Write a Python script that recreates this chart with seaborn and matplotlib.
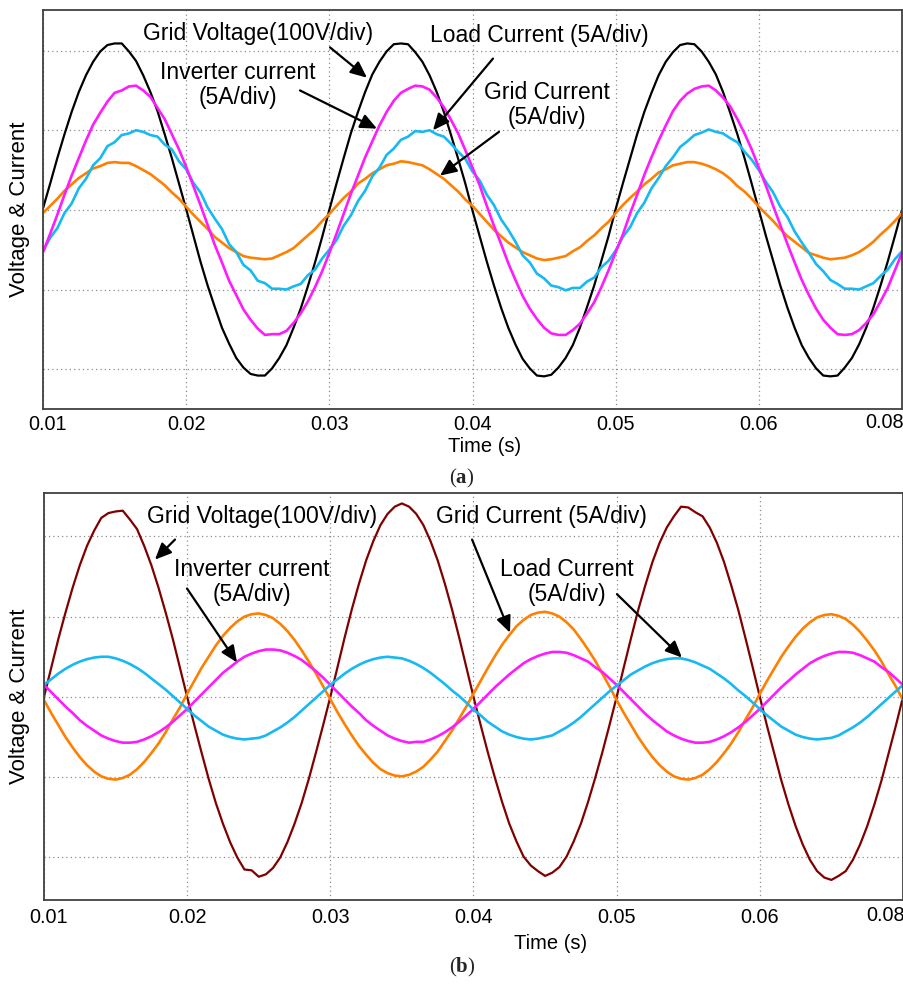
import matplotlib
matplotlib.use("Agg")
import matplotlib.pyplot as plt
import matplotlib.transforms as mtransforms
import pandas as pd
import seaborn as sns

# sample times (s), one reading every 0.5 ms
time_s = [0.0100, 0.0105, 0.0110, 0.0115, 0.0120, 0.0125, 0.0130, 0.0135, 0.0140, 0.0145,
          0.0150, 0.0155, 0.0160, 0.0165, 0.0170, 0.0175, 0.0180, 0.0185, 0.0190, 0.0195,
          0.0200, 0.0205, 0.0210, 0.0215, 0.0220, 0.0225, 0.0230, 0.0235, 0.0240, 0.0245,
          0.0250, 0.0255, 0.0260, 0.0265, 0.0270, 0.0275, 0.0280, 0.0285, 0.0290, 0.0295,
          0.0300, 0.0305, 0.0310, 0.0315, 0.0320, 0.0325, 0.0330, 0.0335, 0.0340, 0.0345,
          0.0350, 0.0355, 0.0360, 0.0365, 0.0370, 0.0375, 0.0380, 0.0385, 0.0390, 0.0395,
          0.0400, 0.0405, 0.0410, 0.0415, 0.0420, 0.0425, 0.0430, 0.0435, 0.0440, 0.0445,
          0.0450, 0.0455, 0.0460, 0.0465, 0.0470, 0.0475, 0.0480, 0.0485, 0.0490, 0.0495,
          0.0500, 0.0505, 0.0510, 0.0515, 0.0520, 0.0525, 0.0530, 0.0535, 0.0540, 0.0545,
          0.0550, 0.0555, 0.0560, 0.0565, 0.0570, 0.0575, 0.0580, 0.0585, 0.0590, 0.0595,
          0.0600, 0.0605, 0.0610, 0.0615, 0.0620, 0.0625, 0.0630, 0.0635, 0.0640, 0.0645,
          0.0650, 0.0655, 0.0660, 0.0665, 0.0670, 0.0675, 0.0680, 0.0685, 0.0690, 0.0695,
          0.0700]

# ---- panel (a), values in screen divisions ----
grid_v_a = [0.02, 0.33, 0.65, 0.95, 1.23, 1.48, 1.69, 1.86, 1.99, 2.07,
            2.09, 2.09, 1.99, 1.87, 1.69, 1.48, 1.24, 0.95, 0.65, 0.33,
            0.01, -0.32, -0.65, -0.95, -1.22, -1.48, -1.68, -1.86, -1.98, -2.06,
            -2.08, -2.08, -1.99, -1.86, -1.70, -1.48, -1.24, -0.96, -0.66, -0.34,
            0.00, 0.33, 0.65, 0.96, 1.23, 1.48, 1.70, 1.86, 1.99, 2.08,
            2.09, 2.08, 1.98, 1.86, 1.69, 1.48, 1.23, 0.94, 0.64, 0.33,
            -0.01, -0.33, -0.65, -0.95, -1.23, -1.48, -1.69, -1.87, -1.99, -2.08,
            -2.09, -2.07, -1.98, -1.86, -1.70, -1.48, -1.22, -0.95, -0.64, -0.33,
            0.01, 0.33, 0.64, 0.95, 1.23, 1.47, 1.69, 1.86, 1.98, 2.07,
            2.09, 2.08, 1.99, 1.86, 1.70, 1.48, 1.22, 0.95, 0.65, 0.33,
            0.00, -0.33, -0.64, -0.95, -1.23, -1.48, -1.70, -1.86, -1.99, -2.08,
            -2.09, -2.08, -1.98, -1.86, -1.69, -1.48, -1.23, -0.95, -0.65, -0.33,
            0.00]
inv_i_a = [-0.53, -0.30, -0.06, 0.19, 0.43, 0.65, 0.87, 1.07, 1.22, 1.36,
           1.47, 1.50, 1.55, 1.56, 1.50, 1.42, 1.28, 1.14, 0.95, 0.76,
           0.54, 0.30, 0.06, -0.19, -0.44, -0.66, -0.89, -1.07, -1.25, -1.38,
           -1.49, -1.57, -1.56, -1.56, -1.52, -1.42, -1.30, -1.15, -0.97, -0.77,
           -0.54, -0.30, -0.05, 0.20, 0.43, 0.66, 0.86, 1.06, 1.23, 1.37,
           1.47, 1.52, 1.56, 1.55, 1.51, 1.41, 1.29, 1.13, 0.96, 0.75,
           0.53, 0.31, 0.05, -0.20, -0.43, -0.67, -0.88, -1.08, -1.24, -1.37,
           -1.48, -1.55, -1.57, -1.57, -1.51, -1.43, -1.30, -1.16, -0.97, -0.76,
           -0.53, -0.31, -0.05, 0.19, 0.44, 0.66, 0.87, 1.06, 1.24, 1.37,
           1.46, 1.52, 1.55, 1.56, 1.50, 1.41, 1.30, 1.14, 0.96, 0.76,
           0.53, 0.30, 0.05, -0.19, -0.43, -0.66, -0.88, -1.07, -1.24, -1.38,
           -1.48, -1.56, -1.57, -1.56, -1.51, -1.42, -1.31, -1.15, -0.98, -0.76,
           -0.54]
load_i_a = [-0.52, -0.35, -0.23, -0.04, 0.08, 0.27, 0.39, 0.56, 0.65, 0.80,
            0.85, 0.94, 0.96, 1.00, 0.98, 0.94, 0.92, 0.82, 0.76, 0.61,
            0.51, 0.34, 0.22, 0.03, -0.11, -0.24, -0.43, -0.53, -0.69, -0.76,
            -0.89, -0.92, -0.99, -0.99, -1.00, -0.96, -0.93, -0.82, -0.75, -0.61,
            -0.50, -0.38, -0.20, -0.07, 0.11, 0.24, 0.42, 0.53, 0.69, 0.77,
            0.88, 0.92, 0.99, 0.98, 1.00, 0.95, 0.92, 0.83, 0.73, 0.64,
            0.48, 0.37, 0.19, 0.06, -0.12, -0.25, -0.40, -0.57, -0.66, -0.80,
            -0.86, -0.95, -0.97, -1.01, -0.98, -0.98, -0.90, -0.85, -0.72, -0.64,
            -0.51, -0.34, -0.22, -0.04, 0.09, 0.27, 0.40, 0.55, 0.66, 0.79,
            0.86, 0.94, 0.97, 1.01, 0.98, 0.96, 0.90, 0.85, 0.73, 0.63,
            0.50, 0.35, 0.22, 0.04, -0.09, -0.27, -0.41, -0.54, -0.68, -0.77,
            -0.88, -0.93, -0.99, -0.99, -1.00, -0.96, -0.92, -0.83, -0.75, -0.62,
            -0.52]
grid_i_a = [-0.04, 0.05, 0.14, 0.24, 0.32, 0.40, 0.46, 0.52, 0.55, 0.59,
            0.60, 0.59, 0.59, 0.55, 0.50, 0.45, 0.38, 0.31, 0.22, 0.14,
            0.04, -0.06, -0.15, -0.24, -0.34, -0.41, -0.48, -0.53, -0.58, -0.60,
            -0.61, -0.62, -0.61, -0.57, -0.53, -0.48, -0.40, -0.32, -0.24, -0.14,
            -0.05, 0.05, 0.15, 0.23, 0.33, 0.39, 0.46, 0.51, 0.56, 0.58,
            0.61, 0.60, 0.58, 0.56, 0.51, 0.45, 0.39, 0.31, 0.23, 0.13,
            0.05, -0.05, -0.15, -0.25, -0.33, -0.41, -0.47, -0.53, -0.57, -0.61,
            -0.63, -0.62, -0.60, -0.58, -0.52, -0.47, -0.39, -0.32, -0.23, -0.15,
            -0.04, 0.06, 0.15, 0.23, 0.32, 0.39, 0.47, 0.51, 0.56, 0.58,
            0.60, 0.60, 0.58, 0.55, 0.51, 0.46, 0.39, 0.30, 0.23, 0.14,
            0.04, -0.05, -0.14, -0.24, -0.33, -0.40, -0.47, -0.54, -0.57, -0.60,
            -0.62, -0.61, -0.60, -0.57, -0.53, -0.47, -0.40, -0.31, -0.23, -0.14,
            -0.04]

# ---- panel (b) ----
grid_v_b = [0.00, 0.36, 0.72, 1.05, 1.36, 1.64, 1.88, 2.07, 2.23, 2.29,
            2.31, 2.32, 2.21, 2.09, 1.88, 1.64, 1.36, 1.05, 0.72, 0.36,
            0.00, -0.35, -0.69, -1.02, -1.32, -1.58, -1.81, -2.00, -2.15, -2.16,
            -2.24, -2.21, -2.13, -2.00, -1.81, -1.58, -1.32, -1.02, -0.69, -0.35,
            0.00, 0.37, 0.74, 1.09, 1.41, 1.70, 1.94, 2.14, 2.28, 2.37,
            2.41, 2.37, 2.28, 2.14, 1.94, 1.70, 1.41, 1.09, 0.74, 0.37,
            0.00, -0.35, -0.69, -1.01, -1.31, -1.58, -1.80, -1.99, -2.10, -2.17,
            -2.23, -2.19, -2.12, -1.99, -1.80, -1.58, -1.31, -1.01, -0.69, -0.35,
            0.00, 0.37, 0.73, 1.08, 1.39, 1.68, 1.92, 2.11, 2.25, 2.37,
            2.36, 2.30, 2.25, 2.11, 1.92, 1.68, 1.39, 1.08, 0.73, 0.37,
            0.00, -0.36, -0.70, -1.04, -1.34, -1.61, -1.84, -2.03, -2.17, -2.25,
            -2.28, -2.23, -2.17, -2.03, -1.84, -1.61, -1.34, -1.04, -0.70, -0.36,
            0.00]
grid_i_b = [-0.04, -0.20, -0.35, -0.50, -0.63, -0.75, -0.85, -0.93, -0.99, -1.02,
            -1.03, -1.01, -0.97, -0.90, -0.81, -0.70, -0.58, -0.44, -0.28, -0.13,
            0.04, 0.20, 0.36, 0.50, 0.64, 0.76, 0.86, 0.94, 1.00, 1.03,
            1.04, 1.02, 0.98, 0.91, 0.82, 0.71, 0.58, 0.44, 0.29, 0.13,
            -0.03, -0.19, -0.34, -0.48, -0.61, -0.72, -0.82, -0.90, -0.95, -0.98,
            -0.99, -0.97, -0.93, -0.87, -0.78, -0.68, -0.55, -0.42, -0.27, -0.12,
            0.04, 0.20, 0.36, 0.51, 0.65, 0.77, 0.88, 0.96, 1.02, 1.05,
            1.06, 1.04, 1.00, 0.93, 0.84, 0.72, 0.59, 0.45, 0.29, 0.13,
            -0.04, -0.20, -0.35, -0.50, -0.63, -0.75, -0.85, -0.93, -0.99, -1.02,
            -1.03, -1.01, -0.97, -0.90, -0.81, -0.70, -0.58, -0.44, -0.28, -0.13,
            0.04, 0.20, 0.35, 0.50, 0.63, 0.75, 0.85, 0.93, 0.99, 1.02,
            1.03, 1.01, 0.97, 0.90, 0.81, 0.70, 0.58, 0.44, 0.28, 0.13,
            -0.04]
inv_i_b = [0.15, 0.06, -0.03, -0.12, -0.20, -0.29, -0.36, -0.42, -0.48, -0.52,
           -0.55, -0.57, -0.57, -0.56, -0.53, -0.49, -0.44, -0.38, -0.31, -0.23,
           -0.15, -0.06, 0.03, 0.12, 0.21, 0.30, 0.37, 0.44, 0.50, 0.54,
           0.57, 0.59, 0.59, 0.58, 0.55, 0.51, 0.46, 0.39, 0.32, 0.24,
           0.15, 0.06, -0.03, -0.12, -0.20, -0.29, -0.36, -0.42, -0.48, -0.52,
           -0.55, -0.57, -0.56, -0.56, -0.53, -0.49, -0.44, -0.38, -0.31, -0.23,
           -0.15, -0.06, 0.03, 0.12, 0.20, 0.28, 0.35, 0.42, 0.47, 0.51,
           0.54, 0.56, 0.56, 0.55, 0.52, 0.48, 0.44, 0.37, 0.31, 0.23,
           0.15, 0.06, -0.03, -0.12, -0.21, -0.29, -0.36, -0.43, -0.48, -0.52,
           -0.55, -0.57, -0.57, -0.56, -0.53, -0.49, -0.44, -0.38, -0.31, -0.23,
           -0.15, -0.06, 0.03, 0.12, 0.20, 0.28, 0.35, 0.42, 0.47, 0.51,
           0.54, 0.56, 0.56, 0.55, 0.52, 0.48, 0.44, 0.37, 0.31, 0.23,
           0.15]
load_i_b = [0.15, 0.22, 0.29, 0.35, 0.40, 0.44, 0.47, 0.49, 0.50, 0.50,
            0.48, 0.45, 0.41, 0.36, 0.30, 0.23, 0.16, 0.09, 0.01, -0.07,
            -0.15, -0.23, -0.30, -0.37, -0.42, -0.47, -0.50, -0.52, -0.53, -0.52,
            -0.51, -0.48, -0.43, -0.38, -0.32, -0.25, -0.17, -0.09, -0.01, 0.07,
            0.15, 0.22, 0.29, 0.35, 0.40, 0.44, 0.47, 0.49, 0.50, 0.49,
            0.48, 0.45, 0.41, 0.36, 0.30, 0.23, 0.16, 0.08, 0.01, -0.07,
            -0.16, -0.23, -0.31, -0.37, -0.43, -0.47, -0.50, -0.52, -0.53, -0.52,
            -0.50, -0.48, -0.43, -0.38, -0.32, -0.25, -0.17, -0.09, -0.01, 0.07,
            0.14, 0.21, 0.28, 0.33, 0.38, 0.42, 0.45, 0.47, 0.48, 0.48,
            0.46, 0.43, 0.39, 0.35, 0.29, 0.23, 0.16, 0.08, 0.01, -0.07,
            -0.15, -0.23, -0.30, -0.37, -0.42, -0.47, -0.50, -0.52, -0.53, -0.52,
            -0.51, -0.48, -0.43, -0.38, -0.32, -0.25, -0.17, -0.09, -0.01, 0.07,
            0.15]

tick_pos = [0.01, 0.02, 0.03, 0.04, 0.05, 0.06, 0.07]
tick_labels = ["0.01", "0.02", "0.03", "0.04", "0.05", "0.06", "0.08"]

colors_a = {"Grid Current": "#ff8000", "Load Current": "#16b9f2",
            "Inverter current": "#ff1aff"}
colors_b = {"Grid Current": "#ff8000", "Inverter current": "#ff1aff",
            "Load Current": "#16b9f2"}
volt_color_a = "#000000"
volt_color_b = "#800000"


def long_frame(series):
    parts = [pd.DataFrame({"time": time_s, "value": vals, "signal": name})
             for name, vals in series.items()]
    return pd.concat(parts, ignore_index=True)


volt_a = pd.DataFrame({"time": time_s, "value": grid_v_a})
volt_b = pd.DataFrame({"time": time_s, "value": grid_v_b})
cur_a = long_frame({"Grid Current": grid_i_a, "Load Current": load_i_a,
                    "Inverter current": inv_i_a})
cur_b = long_frame({"Grid Current": grid_i_b, "Inverter current": inv_i_b,
                    "Load Current": load_i_b})

sns.set_style("white")
plt.rcParams["font.family"] = ["Liberation Sans", "DejaVu Sans"]
plt.rcParams["mathtext.fontset"] = "custom"
plt.rcParams["mathtext.rm"] = "Liberation Serif"
plt.rcParams["mathtext.bf"] = "Liberation Serif:bold"

fig = plt.figure(figsize=(9.04, 9.92), dpi=100)
ax_a = fig.add_axes([0.04757, 0.58770, 0.95022, 0.40222])
ax_b = fig.add_axes([0.04867, 0.09274, 0.95022, 0.41028])


def style_axes(ax, ylim, pad):
    ax.set_xlim(0.01, 0.07)
    ax.set_ylim(*ylim)
    ax.set_xticks(tick_pos)
    ax.set_xticklabels(tick_labels)
    ax.set_yticks([-2, -1, 0, 1, 2])
    ax.set_yticklabels([])
    ax.tick_params(axis="both", length=0, labelsize=14.3, pad=pad, labelcolor="black")
    ax.grid(True, color="#8c8c8c", linestyle=(0, (1, 2.5)), linewidth=0.9)
    ax.set_axisbelow(True)
    for sp in ax.spines.values():
        sp.set_color("#404040")
        sp.set_linewidth(1.3)
    labels = ax.get_xticklabels()
    labels[0].set_transform(labels[0].get_transform()
                            + mtransforms.ScaledTranslation(5 / 100, 0, fig.dpi_scale_trans))
    labels[-1].set_horizontalalignment("right")
    labels[-1].set_transform(labels[-1].get_transform()
                             + mtransforms.ScaledTranslation(2 / 100, 2 / 100, fig.dpi_scale_trans))


def label_arrow(ax, text, text_xy, tail_xy, head_xy):
    ax.text(text_xy[0], text_xy[1], text, ha="center", va="center",
            fontsize=16.5, linespacing=1.1, color="black")
    ax.annotate("", xy=head_xy, xytext=tail_xy,
                arrowprops=dict(arrowstyle="-|>,head_length=0.45,head_width=0.2",
                                mutation_scale=22, color="black", lw=1.6,
                                shrinkA=0, shrinkB=0))


def axis_labels(ax, xlab_xy, ylab_x):
    ax.set_xlabel("Time (s)", fontsize=14.5, color="black")
    ax.xaxis.set_label_coords(*xlab_xy)
    ax.xaxis.label.set_va("center")
    ax.set_ylabel("Voltage & Current", fontsize=16, color="black")
    ax.yaxis.set_label_coords(ylab_x, 0.5)
    ax.yaxis.label.set_va("center")


# panel (a)
sns.lineplot(data=volt_a, x="time", y="value", color=volt_color_a,
             estimator=None, linewidth=1.6, ax=ax_a)
sns.lineplot(data=cur_a, x="time", y="value", hue="signal", palette=colors_a,
             hue_order=list(colors_a), estimator=None, legend=False,
             linewidth=1.9, ax=ax_a)
style_axes(ax_a, (-2.5, 2.51), 4.5)
axis_labels(ax_a, (0.5146, -0.093), -0.0268)

label_arrow(ax_a, "Grid Voltage(100V/div)", (0.02502, 2.21), (0.03005, 2.04), (0.03263, 1.66))
label_arrow(ax_a, "Inverter current\n(5A/div)", (0.02362, 1.57), (0.02795, 1.50), (0.03333, 1.02))
label_arrow(ax_a, "Load Current (5A/div)", (0.04465, 2.19), (0.04143, 1.90), (0.03724, 1.00))
label_arrow(ax_a, "Grid Current\n(5A/div)", (0.04520, 1.32), (0.04185, 0.98), (0.03773, 0.43))

# panel (b)
sns.lineplot(data=volt_b, x="time", y="value", color=volt_color_b,
             estimator=None, linewidth=1.6, ax=ax_b)
sns.lineplot(data=cur_b, x="time", y="value", hue="signal", palette=colors_b,
             hue_order=list(colors_b), estimator=None, legend=False,
             linewidth=1.9, ax=ax_b)
style_axes(ax_b, (-2.53, 2.54), 6.0)
axis_labels(ax_b, (0.590, -0.106), -0.028)

label_arrow(ax_b, "Grid Voltage(100V/div)", (0.02523, 2.25), (0.01915, 1.96), (0.01775, 1.71))
label_arrow(ax_b, "Inverter current\n(5A/div)", (0.02453, 1.43), (0.01999, 1.35), (0.02348, 0.43))
label_arrow(ax_b, "Grid Current (5A/div)", (0.04472, 2.25), (0.03990, 1.96), (0.04255, 0.80))
label_arrow(ax_b, "Load Current\n(5A/div)", (0.04653, 1.43), (0.05002, 1.28), (0.05456, 0.49))

# captions
fig.text(0.511, 0.518, r"($\mathbf{a}$)", ha="center", va="center",
         fontsize=15, family="Liberation Serif")
fig.text(0.511, 0.0252, r"($\mathbf{b}$)", ha="center", va="center",
         fontsize=15, family="Liberation Serif")

fig.savefig("out.png", dpi=100)
